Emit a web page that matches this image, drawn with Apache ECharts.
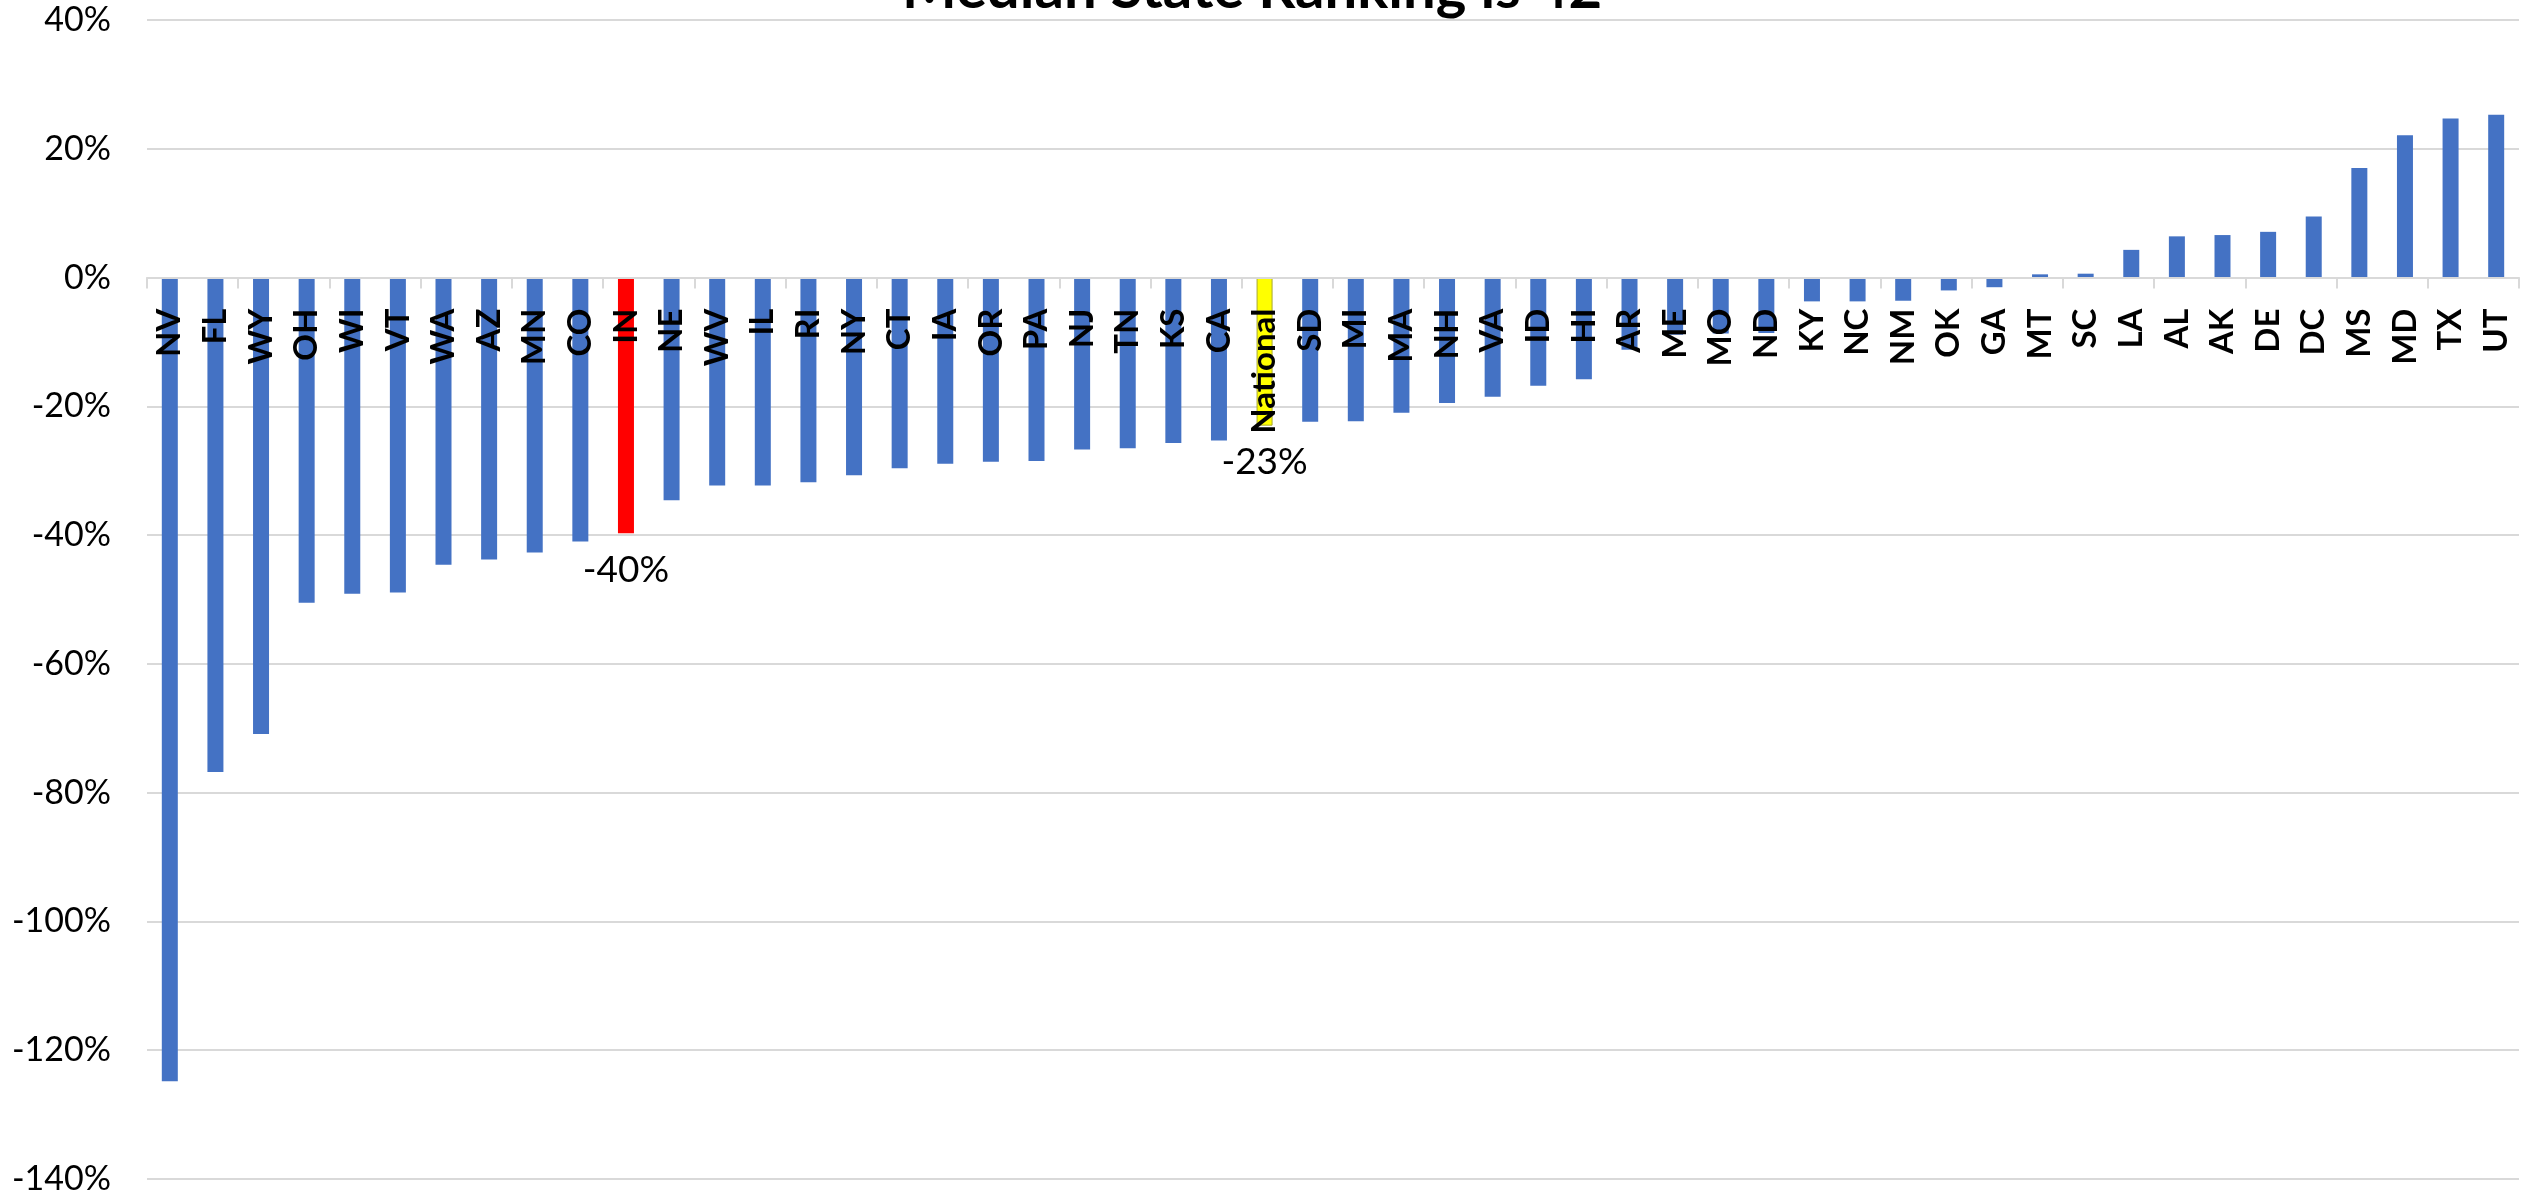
<!DOCTYPE html>
<html>
<head>
<meta charset="utf-8">
<script src="https://cdn.jsdelivr.net/npm/echarts@6/dist/echarts.min.js"></script>
<style>
html,body{margin:0;padding:0;background:#fff;}
#chart{width:2526px;height:1195px;}
</style>
</head>
<body>
<div id="chart"></div>
<script>
const categories = ['NV','FL','WY','OH','WI','VT','WA','AZ','MN','CO','IN','NE','WV','IL','RI','NY','CT','IA','OR','PA','NJ','TN','KS','CA','National','SD','MI','MA','NH','VA','ID','HI','AR','ME','MO','ND','KY','NC','NM','OK','GA','MT','SC','LA','AL','AK','DE','DC','MS','MD','TX','UT'];
const values = [-124.8,-76.8,-70.9,-50.5,-49.1,-48.9,-44.6,-43.8,-42.7,-41.0,-39.7,-34.6,-32.3,-32.3,-31.8,-30.7,-29.6,-28.9,-28.6,-28.5,-26.7,-26.5,-25.7,-25.3,-23.0,-22.4,-22.3,-21.0,-19.5,-18.5,-16.8,-15.8,-11.2,-8.9,-8.7,-8.6,-3.7,-3.7,-3.6,-2.0,-1.5,0.5,0.6,4.3,6.4,6.6,7.1,9.5,17.0,22.1,24.7,25.3];
const yTicks = {min: -140, max: 40, interval: 20};
const titleText = 'Median State Ranking is 42';
const highlightRed = ['IN'];
const highlightYellow = ['National'];

const W = 2526, H = 1195;
const G = {left: 147, right: 7, top: 20, bottom: 16};
const plotH = H - G.top - G.bottom;
const zeroY = G.top + plotH * (yTicks.max - 0) / (yTicks.max - yTicks.min);
const axisOffset = -((H - G.bottom) - zeroY);
const labelGap = 31;

const chart = echarts.init(document.getElementById('chart'));
const labelStyle = {
  show: true, position: 'bottom', distance: 18,
  fontFamily: 'Lato', fontSize: 37, color: '#000',
  formatter: p => Math.round(p.value) + '%'
};
const data = values.map((v, i) => {
  const c = categories[i];
  if (highlightRed.includes(c)) return {value: v, itemStyle: {color: '#FF0000'}, label: labelStyle};
  if (highlightYellow.includes(c)) return {value: v, itemStyle: {color: '#FFFF00', borderColor: '#A8A830', borderWidth: 1}, label: labelStyle};
  return {value: v};
});

chart.setOption({
  animation: false,
  backgroundColor: '#fff',
  graphic: [{
    type: 'text', x: 1252, y: 18, z: 100,
    style: {text: titleText, fontFamily: 'Lato', fontWeight: 'bold', fontSize: 58, fill: '#000', align: 'center', verticalAlign: 'bottom'}
  }],
  grid: {left: G.left, right: G.right, top: G.top, bottom: G.bottom, containLabel: false, outerBoundsMode: 'none'},
  xAxis: [{
    type: 'category', data: categories, z: 10, position: 'bottom', offset: axisOffset,
    axisLine: {show: true, onZero: false, lineStyle: {color: '#d9d9d9', width: 2}},
    axisTick: {show: true, length: 11, lineStyle: {color: '#d9d9d9', width: 2}},
    axisLabel: {show: false}
  }, {
    type: 'category', data: categories, z: 11, position: 'bottom', offset: axisOffset + labelGap,
    axisLine: {show: false, onZero: false}, axisTick: {show: false},
    axisLabel: {interval: 0, rotate: 90, margin: 0, fontFamily: 'Lato', fontWeight: 'bold', fontSize: 33, color: '#000'}
  }],
  yAxis: {
    type: 'value', min: yTicks.min, max: yTicks.max, interval: yTicks.interval,
    axisLine: {show: false}, axisTick: {show: false},
    splitLine: {lineStyle: {color: '#d9d9d9', width: 2}},
    axisLabel: {formatter: '{value}%', margin: 36, fontFamily: 'Lato', fontSize: 34, color: '#000'}
  },
  series: [{
    type: 'bar', data: data, barWidth: 16, xAxisIndex: 0,
    itemStyle: {color: '#4472C4'}
  }]
});
</script>
</body>
</html>
